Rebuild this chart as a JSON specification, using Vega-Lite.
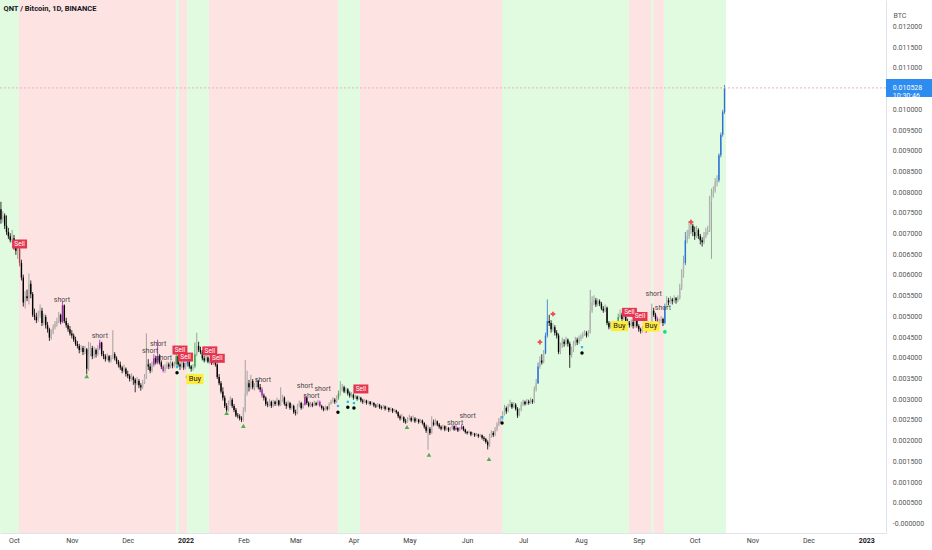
{
  "$schema": "https://vega.github.io/schema/vega-lite/v6.json",
  "description": "QNT / Bitcoin daily candles with signal bands and markers.",
  "width": 886,
  "height": 533,
  "autosize": {"type": "none"},
  "padding": {"left": 0, "top": 0, "right": 46, "bottom": 17},
  "title": {"text": "QNT / Bitcoin, 1D, BINANCE", "anchor": "start", "offset": -12, "dx": 4, "fontSize": 7.5, "fontWeight": "bold", "color": "#131722", "font": "Roboto"},
  "config": {"view": {"stroke": null}, "font": "Roboto", "axis": {"labelOverlap": false}},
  "datasets": {
    "bands": [
      {"a": "2021-09-23T12:00Z", "b": "2021-10-03T16:00Z", "t": "bull"},
      {"a": "2021-10-03T16:00Z", "b": "2021-12-26T21:00Z", "t": "bear"},
      {"a": "2021-12-26T21:00Z", "b": "2021-12-28T12:00Z", "t": "bull"},
      {"a": "2021-12-28T12:00Z", "b": "2022-01-01T19:00Z", "t": "bear"},
      {"a": "2022-01-01T19:00Z", "b": "2022-01-13T14:00Z", "t": "bull"},
      {"a": "2022-01-13T14:00Z", "b": "2022-03-23T17:00Z", "t": "bear"},
      {"a": "2022-03-23T17:00Z", "b": "2022-04-04T12:00Z", "t": "bull"},
      {"a": "2022-04-04T12:00Z", "b": "2022-06-19T17:00Z", "t": "bear"},
      {"a": "2022-06-19T17:00Z", "b": "2022-08-26T19:00Z", "t": "bull"},
      {"a": "2022-08-26T19:00Z", "b": "2022-09-07T14:00Z", "t": "bear"},
      {"a": "2022-09-07T14:00Z", "b": "2022-09-08T19:00Z", "t": "bull"},
      {"a": "2022-09-08T19:00Z", "b": "2022-09-14T12:00Z", "t": "bear"},
      {"a": "2022-09-14T12:00Z", "b": "2022-10-17T19:00Z", "t": "bull"}
    ],
    "last": [{"p": 0.010528, "label": "0.010528\n10:30:46"}],
    "ticks": [
      {"v": 0, "t": "-0.000000"}, {"v": 0.0005, "t": "0.000500"}, {"v": 0.001, "t": "0.001000"},
      {"v": 0.0015, "t": "0.001500"}, {"v": 0.002, "t": "0.002000"}, {"v": 0.0025, "t": "0.002500"},
      {"v": 0.003, "t": "0.003000"}, {"v": 0.0035, "t": "0.003500"}, {"v": 0.004, "t": "0.004000"},
      {"v": 0.0045, "t": "0.004500"}, {"v": 0.005, "t": "0.005000"}, {"v": 0.0055, "t": "0.005500"},
      {"v": 0.006, "t": "0.006000"}, {"v": 0.0065, "t": "0.006500"}, {"v": 0.007, "t": "0.007000"},
      {"v": 0.0075, "t": "0.007500"}, {"v": 0.008, "t": "0.008000"}, {"v": 0.0085, "t": "0.008500"},
      {"v": 0.009, "t": "0.009000"}, {"v": 0.0095, "t": "0.009500"}, {"v": 0.01, "t": "0.010000"},
      {"v": 0.011, "t": "0.011000"}, {"v": 0.0115, "t": "0.011500"}, {"v": 0.012, "t": "0.012000"}
    ],
    "ann": [
      {"d": "2021-10-04", "p": 0.00676, "k": "Sell"},
      {"d": "2021-12-29", "p": 0.0042, "k": "Sell"},
      {"d": "2022-01-01", "p": 0.00403, "k": "Sell"},
      {"d": "2022-01-14", "p": 0.00418, "k": "Sell"},
      {"d": "2022-01-18", "p": 0.004, "k": "Sell"},
      {"d": "2022-04-05", "p": 0.00326, "k": "Sell"},
      {"d": "2022-08-27", "p": 0.00511, "k": "Sell"},
      {"d": "2022-09-01T16:00Z", "p": 0.00501, "k": "Sell"},
      {"d": "2022-01-06", "p": 0.0035, "k": "Buy"},
      {"d": "2022-08-21T16:00Z", "p": 0.00478, "k": "Buy"},
      {"d": "2022-09-07T14:00Z", "p": 0.00477, "k": "Buy"},
      {"d": "2021-10-26T17:00Z", "p": 0.00541, "k": "short"},
      {"d": "2021-11-16", "p": 0.00454, "k": "short"},
      {"d": "2021-12-13", "p": 0.00418, "k": "short"},
      {"d": "2021-12-17T06:00Z", "p": 0.004357, "k": "short"},
      {"d": "2021-12-20T10:00Z", "p": 0.003996, "k": "short"},
      {"d": "2022-02-11T12:00Z", "p": 0.00348, "k": "short"},
      {"d": "2022-03-06", "p": 0.00333, "k": "short"},
      {"d": "2022-03-09T12:00Z", "p": 0.00309, "k": "short"},
      {"d": "2022-03-15T12:00Z", "p": 0.00326, "k": "short"},
      {"d": "2022-05-25T12:00Z", "p": 0.00244, "k": "short"},
      {"d": "2022-06-01T06:00Z", "p": 0.00261, "k": "short"},
      {"d": "2022-09-09", "p": 0.00555, "k": "short"},
      {"d": "2022-09-14", "p": 0.00521, "k": "short"},
      {"d": "2021-11-09", "p": 0.00357, "k": "tri"},
      {"d": "2022-01-23", "p": 0.00268, "k": "tri"},
      {"d": "2022-02-01", "p": 0.00237, "k": "tri"},
      {"d": "2022-04-29T17:00Z", "p": 0.00234, "k": "tri"},
      {"d": "2022-05-11T12:00Z", "p": 0.00167, "k": "tri"},
      {"d": "2022-06-12T17:00Z", "p": 0.00157, "k": "tri"},
      {"d": "2022-01-02", "p": 0.00355, "k": "gdot"},
      {"d": "2022-09-15", "p": 0.00464, "k": "gdot"},
      {"d": "2021-12-27T10:00Z", "p": 0.00365, "k": "dot"},
      {"d": "2022-03-23T17:00Z", "p": 0.0027, "k": "dot"},
      {"d": "2022-03-29", "p": 0.00282, "k": "dot"},
      {"d": "2022-04-01T07:00Z", "p": 0.0028, "k": "dot"},
      {"d": "2022-06-19T17:00Z", "p": 0.00244, "k": "dot"},
      {"d": "2022-08-01T14:00Z", "p": 0.00413, "k": "dot"},
      {"d": "2021-12-27T10:00Z", "p": 0.00379, "k": "bdot"},
      {"d": "2022-03-23T17:00Z", "p": 0.00285, "k": "bdot"},
      {"d": "2022-03-29", "p": 0.00295, "k": "bdot"},
      {"d": "2022-04-01T07:00Z", "p": 0.00292, "k": "bdot"},
      {"d": "2022-06-19T17:00Z", "p": 0.00258, "k": "bdot"},
      {"d": "2022-08-01T14:00Z", "p": 0.00427, "k": "bdot"},
      {"d": "2022-07-10", "p": 0.00439, "k": "plus"},
      {"d": "2022-07-17", "p": 0.00507, "k": "plus"},
      {"d": "2022-09-29", "p": 0.00729, "k": "plus"}
    ],
    "candles": [
      {"d":"2021-09-24","o":0.0076,"h":0.00778,"l":0.00725,"c":0.00735},
      {"d":"2021-09-25","o":0.00735,"h":0.00755,"l":0.00728,"c":0.00745},
      {"d":"2021-09-26","o":0.00745,"h":0.0075,"l":0.00712,"c":0.0072},
      {"d":"2021-09-27","o":0.0072,"h":0.00745,"l":0.00698,"c":0.00705},
      {"d":"2021-09-28","o":0.00705,"h":0.00715,"l":0.00688,"c":0.00695},
      {"d":"2021-09-29","o":0.00695,"h":0.00702,"l":0.0068,"c":0.00685},
      {"d":"2021-09-30","o":0.00685,"h":0.0071,"l":0.00678,"c":0.0069},
      {"d":"2021-10-01","o":0.0069,"h":0.00698,"l":0.00662,"c":0.0067},
      {"d":"2021-10-02","o":0.0067,"h":0.0068,"l":0.0065,"c":0.0066},
      {"d":"2021-10-03","o":0.0066,"h":0.00678,"l":0.0064,"c":0.00665},
      {"d":"2021-10-04","o":0.00665,"h":0.0067,"l":0.00622,"c":0.0063,"s":"sell"},
      {"d":"2021-10-05","o":0.0063,"h":0.00638,"l":0.00588,"c":0.00595},
      {"d":"2021-10-06","o":0.00595,"h":0.00602,"l":0.00525,"c":0.00535},
      {"d":"2021-10-07","o":0.00535,"h":0.00562,"l":0.0052,"c":0.0055},
      {"d":"2021-10-08","o":0.0055,"h":0.00566,"l":0.00538,"c":0.00545},
      {"d":"2021-10-09","o":0.00545,"h":0.00605,"l":0.0053,"c":0.0058},
      {"d":"2021-10-10","o":0.0058,"h":0.00588,"l":0.00545,"c":0.00555},
      {"d":"2021-10-11","o":0.00555,"h":0.0056,"l":0.005,"c":0.00505},
      {"d":"2021-10-12","o":0.00505,"h":0.0052,"l":0.00492,"c":0.005},
      {"d":"2021-10-13","o":0.005,"h":0.0051,"l":0.00485,"c":0.00492},
      {"d":"2021-10-14","o":0.00492,"h":0.00515,"l":0.00488,"c":0.00505},
      {"d":"2021-10-15","o":0.00505,"h":0.0053,"l":0.00498,"c":0.00515},
      {"d":"2021-10-16","o":0.00515,"h":0.00522,"l":0.00478,"c":0.00485},
      {"d":"2021-10-17","o":0.00485,"h":0.00508,"l":0.0048,"c":0.005},
      {"d":"2021-10-18","o":0.005,"h":0.00505,"l":0.00472,"c":0.0048},
      {"d":"2021-10-19","o":0.0048,"h":0.00488,"l":0.00462,"c":0.0047},
      {"d":"2021-10-20","o":0.0047,"h":0.00474,"l":0.00442,"c":0.0045},
      {"d":"2021-10-21","o":0.0045,"h":0.0047,"l":0.00445,"c":0.00462},
      {"d":"2021-10-22","o":0.00462,"h":0.00482,"l":0.00458,"c":0.00475},
      {"d":"2021-10-23","o":0.00475,"h":0.0049,"l":0.0047,"c":0.00482},
      {"d":"2021-10-24","o":0.00482,"h":0.00498,"l":0.00476,"c":0.0049},
      {"d":"2021-10-25","o":0.0049,"h":0.00512,"l":0.00485,"c":0.00505},
      {"d":"2021-10-26","o":0.00505,"h":0.00508,"l":0.00482,"c":0.00488},
      {"d":"2021-10-27","o":0.00488,"h":0.00538,"l":0.00485,"c":0.00528,"s":"short"},
      {"d":"2021-10-28","o":0.00528,"h":0.0053,"l":0.00485,"c":0.0049},
      {"d":"2021-10-29","o":0.0049,"h":0.00498,"l":0.00474,"c":0.0048},
      {"d":"2021-10-30","o":0.0048,"h":0.00485,"l":0.00464,"c":0.0047},
      {"d":"2021-10-31","o":0.0047,"h":0.00478,"l":0.00455,"c":0.0046},
      {"d":"2021-11-01","o":0.0046,"h":0.00468,"l":0.00448,"c":0.00455},
      {"d":"2021-11-02","o":0.00455,"h":0.0046,"l":0.0044,"c":0.00445},
      {"d":"2021-11-03","o":0.00445,"h":0.00452,"l":0.0043,"c":0.00435},
      {"d":"2021-11-04","o":0.00435,"h":0.00442,"l":0.00424,"c":0.0043},
      {"d":"2021-11-05","o":0.0043,"h":0.00435,"l":0.00412,"c":0.0042},
      {"d":"2021-11-06","o":0.0042,"h":0.00432,"l":0.00415,"c":0.00425},
      {"d":"2021-11-07","o":0.00425,"h":0.0043,"l":0.00408,"c":0.00415},
      {"d":"2021-11-08","o":0.00415,"h":0.0043,"l":0.0041,"c":0.00422},
      {"d":"2021-11-09","o":0.00422,"h":0.00425,"l":0.00362,"c":0.00375},
      {"d":"2021-11-10","o":0.00375,"h":0.0044,"l":0.0037,"c":0.0041},
      {"d":"2021-11-11","o":0.0041,"h":0.00438,"l":0.00405,"c":0.00425},
      {"d":"2021-11-12","o":0.00425,"h":0.0043,"l":0.00398,"c":0.00405},
      {"d":"2021-11-13","o":0.00405,"h":0.00428,"l":0.004,"c":0.0042},
      {"d":"2021-11-14","o":0.0042,"h":0.00424,"l":0.00402,"c":0.0041},
      {"d":"2021-11-15","o":0.0041,"h":0.00432,"l":0.00406,"c":0.00425},
      {"d":"2021-11-16","o":0.00425,"h":0.00445,"l":0.0042,"c":0.00438,"s":"short"},
      {"d":"2021-11-17","o":0.00438,"h":0.0044,"l":0.00405,"c":0.0041},
      {"d":"2021-11-18","o":0.0041,"h":0.00418,"l":0.00398,"c":0.00405},
      {"d":"2021-11-19","o":0.00405,"h":0.0041,"l":0.00392,"c":0.00398},
      {"d":"2021-11-20","o":0.00398,"h":0.00412,"l":0.00395,"c":0.00405},
      {"d":"2021-11-21","o":0.00405,"h":0.00408,"l":0.0039,"c":0.00395},
      {"d":"2021-11-22","o":0.00395,"h":0.00408,"l":0.0039,"c":0.00402},
      {"d":"2021-11-23","o":0.00402,"h":0.00468,"l":0.00398,"c":0.0041},
      {"d":"2021-11-24","o":0.0041,"h":0.00415,"l":0.00395,"c":0.004},
      {"d":"2021-11-25","o":0.004,"h":0.00405,"l":0.00386,"c":0.00392},
      {"d":"2021-11-26","o":0.00392,"h":0.00396,"l":0.00378,"c":0.00385},
      {"d":"2021-11-27","o":0.00385,"h":0.00392,"l":0.00372,"c":0.00378},
      {"d":"2021-11-28","o":0.00378,"h":0.00382,"l":0.00364,"c":0.0037},
      {"d":"2021-11-29","o":0.0037,"h":0.00385,"l":0.00366,"c":0.00375},
      {"d":"2021-11-30","o":0.00375,"h":0.00378,"l":0.00356,"c":0.00362},
      {"d":"2021-12-01","o":0.00362,"h":0.0037,"l":0.00352,"c":0.00358},
      {"d":"2021-12-02","o":0.00358,"h":0.00362,"l":0.00344,"c":0.0035},
      {"d":"2021-12-03","o":0.0035,"h":0.00364,"l":0.00346,"c":0.00355},
      {"d":"2021-12-04","o":0.00355,"h":0.00358,"l":0.00336,"c":0.00348},
      {"d":"2021-12-05","o":0.00348,"h":0.00352,"l":0.00318,"c":0.0034},
      {"d":"2021-12-06","o":0.0034,"h":0.00355,"l":0.00335,"c":0.00345},
      {"d":"2021-12-07","o":0.00345,"h":0.0035,"l":0.00328,"c":0.00335},
      {"d":"2021-12-08","o":0.00335,"h":0.0034,"l":0.00322,"c":0.0033},
      {"d":"2021-12-09","o":0.0033,"h":0.00348,"l":0.00326,"c":0.00342},
      {"d":"2021-12-10","o":0.00342,"h":0.00362,"l":0.00338,"c":0.00355},
      {"d":"2021-12-11","o":0.00355,"h":0.0046,"l":0.0035,"c":0.00385},
      {"d":"2021-12-12","o":0.00385,"h":0.00398,"l":0.00372,"c":0.0038},
      {"d":"2021-12-13","o":0.0038,"h":0.00388,"l":0.00364,"c":0.0037},
      {"d":"2021-12-14","o":0.0037,"h":0.00392,"l":0.00366,"c":0.00385},
      {"d":"2021-12-15","o":0.00385,"h":0.0041,"l":0.0038,"c":0.004,"s":"short"},
      {"d":"2021-12-16","o":0.004,"h":0.00406,"l":0.00385,"c":0.0039},
      {"d":"2021-12-17","o":0.0039,"h":0.00445,"l":0.00386,"c":0.00405,"s":"short"},
      {"d":"2021-12-18","o":0.00405,"h":0.0041,"l":0.00385,"c":0.0039},
      {"d":"2021-12-19","o":0.0039,"h":0.00395,"l":0.00374,"c":0.0038},
      {"d":"2021-12-20","o":0.0038,"h":0.00384,"l":0.00366,"c":0.0037,"s":"short"},
      {"d":"2021-12-21","o":0.0037,"h":0.00386,"l":0.00365,"c":0.00378},
      {"d":"2021-12-22","o":0.00378,"h":0.00392,"l":0.00374,"c":0.00385},
      {"d":"2021-12-23","o":0.00385,"h":0.0039,"l":0.00374,"c":0.0038},
      {"d":"2021-12-24","o":0.0038,"h":0.00395,"l":0.00376,"c":0.00388},
      {"d":"2021-12-25","o":0.00388,"h":0.00392,"l":0.00376,"c":0.00382},
      {"d":"2021-12-26","o":0.00382,"h":0.00392,"l":0.00378,"c":0.00386},
      {"d":"2021-12-27","o":0.00386,"h":0.00412,"l":0.00382,"c":0.00405,"s":"long"},
      {"d":"2021-12-28","o":0.00405,"h":0.00408,"l":0.0038,"c":0.00385},
      {"d":"2021-12-29","o":0.00385,"h":0.0039,"l":0.00372,"c":0.0038},
      {"d":"2021-12-30","o":0.0038,"h":0.00395,"l":0.00376,"c":0.00388},
      {"d":"2021-12-31","o":0.00388,"h":0.00392,"l":0.00372,"c":0.00378},
      {"d":"2022-01-01","o":0.00378,"h":0.0039,"l":0.00374,"c":0.00385},
      {"d":"2022-01-02","o":0.00385,"h":0.00398,"l":0.0038,"c":0.00392,"s":"trend"},
      {"d":"2022-01-03","o":0.00392,"h":0.00395,"l":0.00375,"c":0.0038},
      {"d":"2022-01-04","o":0.0038,"h":0.00384,"l":0.00368,"c":0.00375},
      {"d":"2022-01-05","o":0.00375,"h":0.00386,"l":0.0037,"c":0.0038},
      {"d":"2022-01-06","o":0.0038,"h":0.00438,"l":0.00376,"c":0.0041,"s":"long"},
      {"d":"2022-01-07","o":0.0041,"h":0.00462,"l":0.00405,"c":0.0043},
      {"d":"2022-01-08","o":0.0043,"h":0.0044,"l":0.00415,"c":0.0042},
      {"d":"2022-01-09","o":0.0042,"h":0.00428,"l":0.0041,"c":0.00415},
      {"d":"2022-01-10","o":0.00415,"h":0.0042,"l":0.00395,"c":0.004},
      {"d":"2022-01-11","o":0.004,"h":0.00406,"l":0.0039,"c":0.00395},
      {"d":"2022-01-12","o":0.00395,"h":0.00408,"l":0.00392,"c":0.00402},
      {"d":"2022-01-13","o":0.00402,"h":0.00405,"l":0.00388,"c":0.00392},
      {"d":"2022-01-14","o":0.00392,"h":0.004,"l":0.00386,"c":0.00395},
      {"d":"2022-01-15","o":0.00395,"h":0.00398,"l":0.00384,"c":0.00388},
      {"d":"2022-01-16","o":0.00388,"h":0.00395,"l":0.00384,"c":0.0039},
      {"d":"2022-01-17","o":0.0039,"h":0.00394,"l":0.0038,"c":0.00385},
      {"d":"2022-01-18","o":0.00385,"h":0.00388,"l":0.0035,"c":0.00355},
      {"d":"2022-01-19","o":0.00355,"h":0.00362,"l":0.00335,"c":0.0034},
      {"d":"2022-01-20","o":0.0034,"h":0.00345,"l":0.00315,"c":0.0032},
      {"d":"2022-01-21","o":0.0032,"h":0.0033,"l":0.00298,"c":0.00305},
      {"d":"2022-01-22","o":0.00305,"h":0.0031,"l":0.0028,"c":0.00285},
      {"d":"2022-01-23","o":0.00285,"h":0.00292,"l":0.0027,"c":0.00275},
      {"d":"2022-01-24","o":0.00275,"h":0.00298,"l":0.00272,"c":0.0029},
      {"d":"2022-01-25","o":0.0029,"h":0.00308,"l":0.00286,"c":0.003},
      {"d":"2022-01-26","o":0.003,"h":0.00304,"l":0.0028,"c":0.00285},
      {"d":"2022-01-27","o":0.00285,"h":0.0029,"l":0.0027,"c":0.00275},
      {"d":"2022-01-28","o":0.00275,"h":0.0028,"l":0.00258,"c":0.00262},
      {"d":"2022-01-29","o":0.00262,"h":0.00268,"l":0.00255,"c":0.0026},
      {"d":"2022-01-30","o":0.0026,"h":0.00265,"l":0.0025,"c":0.00255},
      {"d":"2022-01-31","o":0.00255,"h":0.0026,"l":0.00246,"c":0.00252},
      {"d":"2022-02-01","o":0.00252,"h":0.00282,"l":0.00248,"c":0.00275},
      {"d":"2022-02-02","o":0.00275,"h":0.00396,"l":0.0027,"c":0.00315},
      {"d":"2022-02-03","o":0.00315,"h":0.0037,"l":0.0031,"c":0.0034},
      {"d":"2022-02-04","o":0.0034,"h":0.00348,"l":0.0032,"c":0.0033},
      {"d":"2022-02-05","o":0.0033,"h":0.0036,"l":0.00325,"c":0.00345},
      {"d":"2022-02-06","o":0.00345,"h":0.0035,"l":0.00325,"c":0.0033},
      {"d":"2022-02-07","o":0.0033,"h":0.0034,"l":0.00322,"c":0.00335},
      {"d":"2022-02-08","o":0.00335,"h":0.00352,"l":0.0033,"c":0.00345},
      {"d":"2022-02-09","o":0.00345,"h":0.00348,"l":0.00325,"c":0.0033},
      {"d":"2022-02-10","o":0.0033,"h":0.00338,"l":0.00318,"c":0.00325},
      {"d":"2022-02-11","o":0.00325,"h":0.0033,"l":0.00305,"c":0.0031,"s":"short"},
      {"d":"2022-02-12","o":0.0031,"h":0.00315,"l":0.00298,"c":0.00305},
      {"d":"2022-02-13","o":0.00305,"h":0.00308,"l":0.00285,"c":0.0029},
      {"d":"2022-02-14","o":0.0029,"h":0.00296,"l":0.00282,"c":0.00288},
      {"d":"2022-02-15","o":0.00288,"h":0.00302,"l":0.00284,"c":0.00295},
      {"d":"2022-02-16","o":0.00295,"h":0.00298,"l":0.0028,"c":0.00285},
      {"d":"2022-02-17","o":0.00285,"h":0.003,"l":0.00282,"c":0.00295},
      {"d":"2022-02-18","o":0.00295,"h":0.00298,"l":0.00285,"c":0.0029},
      {"d":"2022-02-19","o":0.0029,"h":0.00305,"l":0.00286,"c":0.00298},
      {"d":"2022-02-20","o":0.00298,"h":0.003,"l":0.00284,"c":0.00288},
      {"d":"2022-02-21","o":0.00288,"h":0.0033,"l":0.00285,"c":0.003},
      {"d":"2022-02-22","o":0.003,"h":0.00312,"l":0.00295,"c":0.00305},
      {"d":"2022-02-23","o":0.00305,"h":0.00308,"l":0.00286,"c":0.0029},
      {"d":"2022-02-24","o":0.0029,"h":0.00295,"l":0.00278,"c":0.00285},
      {"d":"2022-02-25","o":0.00285,"h":0.00298,"l":0.00282,"c":0.00292},
      {"d":"2022-02-26","o":0.00292,"h":0.00295,"l":0.00276,"c":0.0028},
      {"d":"2022-02-27","o":0.0028,"h":0.0029,"l":0.00276,"c":0.00285},
      {"d":"2022-02-28","o":0.00285,"h":0.00288,"l":0.00266,"c":0.0027},
      {"d":"2022-03-01","o":0.0027,"h":0.00276,"l":0.00262,"c":0.00268},
      {"d":"2022-03-02","o":0.00268,"h":0.0029,"l":0.00265,"c":0.00285},
      {"d":"2022-03-03","o":0.00285,"h":0.00298,"l":0.00282,"c":0.00292},
      {"d":"2022-03-04","o":0.00292,"h":0.00295,"l":0.00276,"c":0.0028},
      {"d":"2022-03-05","o":0.0028,"h":0.00292,"l":0.00278,"c":0.00288},
      {"d":"2022-03-06","o":0.00288,"h":0.00312,"l":0.00286,"c":0.00305,"s":"short"},
      {"d":"2022-03-07","o":0.00305,"h":0.00308,"l":0.00288,"c":0.00292},
      {"d":"2022-03-08","o":0.00292,"h":0.00296,"l":0.00282,"c":0.00285},
      {"d":"2022-03-09","o":0.00285,"h":0.00295,"l":0.00282,"c":0.0029},
      {"d":"2022-03-10","o":0.0029,"h":0.00294,"l":0.00282,"c":0.00286},
      {"d":"2022-03-11","o":0.00286,"h":0.00298,"l":0.00284,"c":0.00292},
      {"d":"2022-03-12","o":0.00292,"h":0.00295,"l":0.00285,"c":0.00288},
      {"d":"2022-03-13","o":0.00288,"h":0.003,"l":0.00286,"c":0.00295},
      {"d":"2022-03-14","o":0.00295,"h":0.00298,"l":0.00282,"c":0.00285,"s":"short"},
      {"d":"2022-03-15","o":0.00285,"h":0.00288,"l":0.00276,"c":0.0028},
      {"d":"2022-03-16","o":0.0028,"h":0.00284,"l":0.00272,"c":0.00276},
      {"d":"2022-03-17","o":0.00276,"h":0.00286,"l":0.00274,"c":0.00282},
      {"d":"2022-03-18","o":0.00282,"h":0.00285,"l":0.00274,"c":0.00278},
      {"d":"2022-03-19","o":0.00278,"h":0.00294,"l":0.00276,"c":0.0029},
      {"d":"2022-03-20","o":0.0029,"h":0.003,"l":0.00288,"c":0.00295},
      {"d":"2022-03-21","o":0.00295,"h":0.00306,"l":0.00292,"c":0.003},
      {"d":"2022-03-22","o":0.003,"h":0.00304,"l":0.0029,"c":0.00295},
      {"d":"2022-03-23","o":0.00295,"h":0.0031,"l":0.00292,"c":0.00305},
      {"d":"2022-03-24","o":0.00305,"h":0.00322,"l":0.003,"c":0.00315,"s":"long"},
      {"d":"2022-03-25","o":0.00315,"h":0.00345,"l":0.0031,"c":0.00325},
      {"d":"2022-03-26","o":0.00325,"h":0.00338,"l":0.0032,"c":0.0033},
      {"d":"2022-03-27","o":0.0033,"h":0.00334,"l":0.00316,"c":0.0032},
      {"d":"2022-03-28","o":0.0032,"h":0.0033,"l":0.00315,"c":0.00325},
      {"d":"2022-03-29","o":0.00325,"h":0.00328,"l":0.0031,"c":0.00315},
      {"d":"2022-03-30","o":0.00315,"h":0.0032,"l":0.00305,"c":0.0031},
      {"d":"2022-03-31","o":0.0031,"h":0.00318,"l":0.00306,"c":0.00312},
      {"d":"2022-04-01","o":0.00312,"h":0.00315,"l":0.003,"c":0.00305},
      {"d":"2022-04-02","o":0.00305,"h":0.00312,"l":0.00302,"c":0.00308},
      {"d":"2022-04-03","o":0.00308,"h":0.0031,"l":0.00298,"c":0.00302},
      {"d":"2022-04-04","o":0.00302,"h":0.0031,"l":0.003,"c":0.00305},
      {"d":"2022-04-05","o":0.00305,"h":0.00307,"l":0.00294,"c":0.00298},
      {"d":"2022-04-06","o":0.00298,"h":0.00302,"l":0.0029,"c":0.00295},
      {"d":"2022-04-07","o":0.00295,"h":0.00302,"l":0.00292,"c":0.00298},
      {"d":"2022-04-08","o":0.00298,"h":0.003,"l":0.00288,"c":0.00292},
      {"d":"2022-04-09","o":0.00292,"h":0.00298,"l":0.00289,"c":0.00295},
      {"d":"2022-04-10","o":0.00295,"h":0.00297,"l":0.00286,"c":0.0029},
      {"d":"2022-04-11","o":0.0029,"h":0.00296,"l":0.00287,"c":0.00292},
      {"d":"2022-04-12","o":0.00292,"h":0.00294,"l":0.00282,"c":0.00286},
      {"d":"2022-04-13","o":0.00286,"h":0.0029,"l":0.0028,"c":0.00284},
      {"d":"2022-04-14","o":0.00284,"h":0.00292,"l":0.00282,"c":0.00288},
      {"d":"2022-04-15","o":0.00288,"h":0.0029,"l":0.00278,"c":0.00282},
      {"d":"2022-04-16","o":0.00282,"h":0.00286,"l":0.00276,"c":0.0028},
      {"d":"2022-04-17","o":0.0028,"h":0.00288,"l":0.00278,"c":0.00284},
      {"d":"2022-04-18","o":0.00284,"h":0.00286,"l":0.00274,"c":0.00278},
      {"d":"2022-04-19","o":0.00278,"h":0.00284,"l":0.00276,"c":0.0028},
      {"d":"2022-04-20","o":0.0028,"h":0.00282,"l":0.0027,"c":0.00275},
      {"d":"2022-04-21","o":0.00275,"h":0.00282,"l":0.00272,"c":0.00278},
      {"d":"2022-04-22","o":0.00278,"h":0.0028,"l":0.00268,"c":0.00272},
      {"d":"2022-04-23","o":0.00272,"h":0.00278,"l":0.0027,"c":0.00274},
      {"d":"2022-04-24","o":0.00274,"h":0.00276,"l":0.00266,"c":0.0027},
      {"d":"2022-04-25","o":0.0027,"h":0.00272,"l":0.00256,"c":0.0026},
      {"d":"2022-04-26","o":0.0026,"h":0.00264,"l":0.0025,"c":0.00255},
      {"d":"2022-04-27","o":0.00255,"h":0.00266,"l":0.00252,"c":0.00258},
      {"d":"2022-04-28","o":0.00258,"h":0.0026,"l":0.00244,"c":0.00248},
      {"d":"2022-04-29","o":0.00248,"h":0.00254,"l":0.00242,"c":0.00246},
      {"d":"2022-04-30","o":0.00246,"h":0.00258,"l":0.00244,"c":0.00252},
      {"d":"2022-05-01","o":0.00252,"h":0.00264,"l":0.0025,"c":0.00256},
      {"d":"2022-05-02","o":0.00256,"h":0.0026,"l":0.00246,"c":0.0025},
      {"d":"2022-05-03","o":0.0025,"h":0.00262,"l":0.00248,"c":0.00255},
      {"d":"2022-05-04","o":0.00255,"h":0.00258,"l":0.00244,"c":0.00248},
      {"d":"2022-05-05","o":0.00248,"h":0.00256,"l":0.00246,"c":0.00252},
      {"d":"2022-05-06","o":0.00252,"h":0.00254,"l":0.00242,"c":0.00246},
      {"d":"2022-05-07","o":0.00246,"h":0.00254,"l":0.00244,"c":0.0025},
      {"d":"2022-05-08","o":0.0025,"h":0.00252,"l":0.0024,"c":0.00244},
      {"d":"2022-05-09","o":0.00244,"h":0.00246,"l":0.0023,"c":0.00235},
      {"d":"2022-05-10","o":0.00235,"h":0.0024,"l":0.0022,"c":0.00225},
      {"d":"2022-05-11","o":0.00225,"h":0.00238,"l":0.00179,"c":0.0023},
      {"d":"2022-05-12","o":0.0023,"h":0.00234,"l":0.00215,"c":0.0022},
      {"d":"2022-05-13","o":0.0022,"h":0.0026,"l":0.00218,"c":0.00245},
      {"d":"2022-05-14","o":0.00245,"h":0.00252,"l":0.00236,"c":0.0024},
      {"d":"2022-05-15","o":0.0024,"h":0.00254,"l":0.00238,"c":0.00248},
      {"d":"2022-05-16","o":0.00248,"h":0.0025,"l":0.00236,"c":0.0024},
      {"d":"2022-05-17","o":0.0024,"h":0.00244,"l":0.0023,"c":0.00235},
      {"d":"2022-05-18","o":0.00235,"h":0.00238,"l":0.00226,"c":0.0023},
      {"d":"2022-05-19","o":0.0023,"h":0.0024,"l":0.00228,"c":0.00236},
      {"d":"2022-05-20","o":0.00236,"h":0.00238,"l":0.00224,"c":0.00228},
      {"d":"2022-05-21","o":0.00228,"h":0.00236,"l":0.00226,"c":0.00232},
      {"d":"2022-05-22","o":0.00232,"h":0.00234,"l":0.00222,"c":0.00226},
      {"d":"2022-05-23","o":0.00226,"h":0.00234,"l":0.00224,"c":0.0023},
      {"d":"2022-05-24","o":0.0023,"h":0.00242,"l":0.00228,"c":0.00236},
      {"d":"2022-05-25","o":0.00236,"h":0.00238,"l":0.00225,"c":0.00228},
      {"d":"2022-05-26","o":0.00228,"h":0.00238,"l":0.00226,"c":0.00232,"s":"short"},
      {"d":"2022-05-27","o":0.00232,"h":0.00234,"l":0.00222,"c":0.00226},
      {"d":"2022-05-28","o":0.00226,"h":0.00234,"l":0.00224,"c":0.0023},
      {"d":"2022-05-29","o":0.0023,"h":0.0024,"l":0.00228,"c":0.00235,"s":"short"},
      {"d":"2022-05-30","o":0.00235,"h":0.00237,"l":0.00224,"c":0.00228},
      {"d":"2022-05-31","o":0.00228,"h":0.0023,"l":0.00218,"c":0.00222},
      {"d":"2022-06-01","o":0.00222,"h":0.00225,"l":0.00216,"c":0.0022},
      {"d":"2022-06-02","o":0.0022,"h":0.00226,"l":0.00218,"c":0.00222},
      {"d":"2022-06-03","o":0.00222,"h":0.00224,"l":0.00212,"c":0.00216},
      {"d":"2022-06-04","o":0.00216,"h":0.00222,"l":0.00214,"c":0.00218},
      {"d":"2022-06-05","o":0.00218,"h":0.0022,"l":0.0021,"c":0.00214},
      {"d":"2022-06-06","o":0.00214,"h":0.0022,"l":0.00212,"c":0.00216},
      {"d":"2022-06-07","o":0.00216,"h":0.00218,"l":0.00208,"c":0.00212},
      {"d":"2022-06-08","o":0.00212,"h":0.00218,"l":0.0021,"c":0.00214},
      {"d":"2022-06-09","o":0.00214,"h":0.00216,"l":0.00204,"c":0.00208},
      {"d":"2022-06-10","o":0.00208,"h":0.00212,"l":0.002,"c":0.00205},
      {"d":"2022-06-11","o":0.00205,"h":0.00208,"l":0.00194,"c":0.00198},
      {"d":"2022-06-12","o":0.00198,"h":0.00202,"l":0.0018,"c":0.0019},
      {"d":"2022-06-13","o":0.0019,"h":0.00218,"l":0.00186,"c":0.00212},
      {"d":"2022-06-14","o":0.00212,"h":0.00226,"l":0.00208,"c":0.0022},
      {"d":"2022-06-15","o":0.0022,"h":0.00224,"l":0.0021,"c":0.00215},
      {"d":"2022-06-16","o":0.00215,"h":0.00234,"l":0.00212,"c":0.00228},
      {"d":"2022-06-17","o":0.00228,"h":0.00246,"l":0.00224,"c":0.0024},
      {"d":"2022-06-18","o":0.0024,"h":0.00256,"l":0.00236,"c":0.0025},
      {"d":"2022-06-19","o":0.0025,"h":0.0026,"l":0.00244,"c":0.00252},
      {"d":"2022-06-20","o":0.00252,"h":0.00272,"l":0.0025,"c":0.00265},
      {"d":"2022-06-21","o":0.00265,"h":0.00288,"l":0.00262,"c":0.0028},
      {"d":"2022-06-22","o":0.0028,"h":0.00284,"l":0.00266,"c":0.00272},
      {"d":"2022-06-23","o":0.00272,"h":0.0029,"l":0.0027,"c":0.00285},
      {"d":"2022-06-24","o":0.00285,"h":0.003,"l":0.00282,"c":0.0029},
      {"d":"2022-06-25","o":0.0029,"h":0.00294,"l":0.00278,"c":0.00282},
      {"d":"2022-06-26","o":0.00282,"h":0.00294,"l":0.0028,"c":0.00288},
      {"d":"2022-06-27","o":0.00288,"h":0.00292,"l":0.00274,"c":0.00278},
      {"d":"2022-06-28","o":0.00278,"h":0.00282,"l":0.00256,"c":0.00262},
      {"d":"2022-06-29","o":0.00262,"h":0.0028,"l":0.0026,"c":0.00275},
      {"d":"2022-06-30","o":0.00275,"h":0.00295,"l":0.00272,"c":0.00288},
      {"d":"2022-07-01","o":0.00288,"h":0.003,"l":0.00285,"c":0.00295},
      {"d":"2022-07-02","o":0.00295,"h":0.00298,"l":0.00286,"c":0.0029},
      {"d":"2022-07-03","o":0.0029,"h":0.00302,"l":0.00288,"c":0.00296},
      {"d":"2022-07-04","o":0.00296,"h":0.003,"l":0.00288,"c":0.00292},
      {"d":"2022-07-05","o":0.00292,"h":0.00305,"l":0.0029,"c":0.00298},
      {"d":"2022-07-06","o":0.00298,"h":0.00302,"l":0.0029,"c":0.00295},
      {"d":"2022-07-07","o":0.00295,"h":0.00332,"l":0.00292,"c":0.00325},
      {"d":"2022-07-08","o":0.00325,"h":0.0035,"l":0.0032,"c":0.0034},
      {"d":"2022-07-09","o":0.0034,"h":0.0039,"l":0.00338,"c":0.0038,"s":"trend"},
      {"d":"2022-07-10","o":0.0038,"h":0.00405,"l":0.00375,"c":0.00395},
      {"d":"2022-07-11","o":0.00395,"h":0.0041,"l":0.00385,"c":0.0039},
      {"d":"2022-07-12","o":0.0039,"h":0.0042,"l":0.00388,"c":0.00412},
      {"d":"2022-07-13","o":0.00412,"h":0.00462,"l":0.0041,"c":0.00455,"s":"trend"},
      {"d":"2022-07-14","o":0.00455,"h":0.00542,"l":0.0045,"c":0.0049,"s":"trend"},
      {"d":"2022-07-15","o":0.0049,"h":0.00505,"l":0.00478,"c":0.00485},
      {"d":"2022-07-16","o":0.00485,"h":0.00492,"l":0.00462,"c":0.0047},
      {"d":"2022-07-17","o":0.0047,"h":0.00485,"l":0.00465,"c":0.00475},
      {"d":"2022-07-18","o":0.00475,"h":0.0048,"l":0.00455,"c":0.00462},
      {"d":"2022-07-19","o":0.00462,"h":0.00468,"l":0.00448,"c":0.00455},
      {"d":"2022-07-20","o":0.00455,"h":0.0046,"l":0.0041,"c":0.00415},
      {"d":"2022-07-21","o":0.00415,"h":0.00438,"l":0.0041,"c":0.0043},
      {"d":"2022-07-22","o":0.0043,"h":0.0045,"l":0.00425,"c":0.0044},
      {"d":"2022-07-23","o":0.0044,"h":0.00446,"l":0.00428,"c":0.00435},
      {"d":"2022-07-24","o":0.00435,"h":0.00452,"l":0.00432,"c":0.00445},
      {"d":"2022-07-25","o":0.00445,"h":0.00448,"l":0.00428,"c":0.00435},
      {"d":"2022-07-26","o":0.00435,"h":0.0044,"l":0.00377,"c":0.00408},
      {"d":"2022-07-27","o":0.00408,"h":0.00428,"l":0.00402,"c":0.0042},
      {"d":"2022-07-28","o":0.0042,"h":0.00442,"l":0.00415,"c":0.00435},
      {"d":"2022-07-29","o":0.00435,"h":0.00452,"l":0.0043,"c":0.00445},
      {"d":"2022-07-30","o":0.00445,"h":0.0045,"l":0.00432,"c":0.00438},
      {"d":"2022-07-31","o":0.00438,"h":0.00455,"l":0.00435,"c":0.00448},
      {"d":"2022-08-01","o":0.00448,"h":0.00458,"l":0.00442,"c":0.00452},
      {"d":"2022-08-02","o":0.00452,"h":0.00464,"l":0.00448,"c":0.00458},
      {"d":"2022-08-03","o":0.00458,"h":0.00468,"l":0.00454,"c":0.00462},
      {"d":"2022-08-04","o":0.00462,"h":0.00466,"l":0.0045,"c":0.00455},
      {"d":"2022-08-05","o":0.00455,"h":0.00468,"l":0.00452,"c":0.00462},
      {"d":"2022-08-06","o":0.00462,"h":0.00565,"l":0.0046,"c":0.00515},
      {"d":"2022-08-07","o":0.00515,"h":0.0055,"l":0.0051,"c":0.00535},
      {"d":"2022-08-08","o":0.00535,"h":0.00552,"l":0.00528,"c":0.0054},
      {"d":"2022-08-09","o":0.0054,"h":0.00546,"l":0.00524,"c":0.0053},
      {"d":"2022-08-10","o":0.0053,"h":0.00544,"l":0.00526,"c":0.00538},
      {"d":"2022-08-11","o":0.00538,"h":0.00542,"l":0.00526,"c":0.00532},
      {"d":"2022-08-12","o":0.00532,"h":0.00536,"l":0.00516,"c":0.0052},
      {"d":"2022-08-13","o":0.0052,"h":0.00526,"l":0.0051,"c":0.00515},
      {"d":"2022-08-14","o":0.00515,"h":0.0053,"l":0.00512,"c":0.00522},
      {"d":"2022-08-15","o":0.00522,"h":0.00525,"l":0.0048,"c":0.00485},
      {"d":"2022-08-16","o":0.00485,"h":0.0049,"l":0.0047,"c":0.00475},
      {"d":"2022-08-17","o":0.00475,"h":0.00488,"l":0.00472,"c":0.0048},
      {"d":"2022-08-18","o":0.0048,"h":0.00484,"l":0.0047,"c":0.00474},
      {"d":"2022-08-19","o":0.00474,"h":0.00484,"l":0.0047,"c":0.00478},
      {"d":"2022-08-20","o":0.00478,"h":0.00482,"l":0.00466,"c":0.00472},
      {"d":"2022-08-21","o":0.00472,"h":0.00508,"l":0.0047,"c":0.005,"s":"long"},
      {"d":"2022-08-22","o":0.005,"h":0.00518,"l":0.00496,"c":0.00505},
      {"d":"2022-08-23","o":0.00505,"h":0.0051,"l":0.0049,"c":0.00495},
      {"d":"2022-08-24","o":0.00495,"h":0.00512,"l":0.00492,"c":0.00505},
      {"d":"2022-08-25","o":0.00505,"h":0.00508,"l":0.00486,"c":0.0049},
      {"d":"2022-08-26","o":0.0049,"h":0.00496,"l":0.0048,"c":0.00485},
      {"d":"2022-08-27","o":0.00485,"h":0.0049,"l":0.00474,"c":0.0048},
      {"d":"2022-08-28","o":0.0048,"h":0.00494,"l":0.00476,"c":0.00488},
      {"d":"2022-08-29","o":0.00488,"h":0.00492,"l":0.00472,"c":0.00478},
      {"d":"2022-08-30","o":0.00478,"h":0.00502,"l":0.00474,"c":0.00495},
      {"d":"2022-08-31","o":0.00495,"h":0.00498,"l":0.00474,"c":0.00478},
      {"d":"2022-09-01","o":0.00478,"h":0.00482,"l":0.00464,"c":0.0047},
      {"d":"2022-09-02","o":0.0047,"h":0.00474,"l":0.0046,"c":0.00466},
      {"d":"2022-09-03","o":0.00466,"h":0.00478,"l":0.00462,"c":0.00472},
      {"d":"2022-09-04","o":0.00472,"h":0.00482,"l":0.00468,"c":0.00475},
      {"d":"2022-09-05","o":0.00475,"h":0.00478,"l":0.00462,"c":0.0047},
      {"d":"2022-09-06","o":0.0047,"h":0.00488,"l":0.00466,"c":0.0048},
      {"d":"2022-09-07","o":0.0048,"h":0.00484,"l":0.00466,"c":0.00472},
      {"d":"2022-09-08","o":0.00472,"h":0.00532,"l":0.0047,"c":0.00515},
      {"d":"2022-09-09","o":0.00515,"h":0.00522,"l":0.005,"c":0.00505},
      {"d":"2022-09-10","o":0.00505,"h":0.0051,"l":0.0049,"c":0.00495},
      {"d":"2022-09-11","o":0.00495,"h":0.005,"l":0.0048,"c":0.00485,"s":"short"},
      {"d":"2022-09-12","o":0.00485,"h":0.00496,"l":0.00482,"c":0.0049},
      {"d":"2022-09-13","o":0.0049,"h":0.00502,"l":0.00485,"c":0.00495},
      {"d":"2022-09-14","o":0.00495,"h":0.00498,"l":0.00478,"c":0.00485},
      {"d":"2022-09-15","o":0.00485,"h":0.00532,"l":0.00482,"c":0.00525,"s":"trend"},
      {"d":"2022-09-16","o":0.00525,"h":0.0055,"l":0.00522,"c":0.0054},
      {"d":"2022-09-17","o":0.0054,"h":0.00546,"l":0.00528,"c":0.00535},
      {"d":"2022-09-18","o":0.00535,"h":0.0055,"l":0.00532,"c":0.00542},
      {"d":"2022-09-19","o":0.00542,"h":0.00546,"l":0.0053,"c":0.00538},
      {"d":"2022-09-20","o":0.00538,"h":0.00552,"l":0.00534,"c":0.00545},
      {"d":"2022-09-21","o":0.00545,"h":0.00548,"l":0.00532,"c":0.0054},
      {"d":"2022-09-22","o":0.0054,"h":0.00552,"l":0.00536,"c":0.00545},
      {"d":"2022-09-23","o":0.00545,"h":0.0058,"l":0.00542,"c":0.0057},
      {"d":"2022-09-24","o":0.0057,"h":0.00615,"l":0.00565,"c":0.006},
      {"d":"2022-09-25","o":0.006,"h":0.00648,"l":0.00595,"c":0.0063},
      {"d":"2022-09-26","o":0.0063,"h":0.00705,"l":0.00625,"c":0.00685,"s":"trend"},
      {"d":"2022-09-27","o":0.00685,"h":0.0071,"l":0.00678,"c":0.00695},
      {"d":"2022-09-28","o":0.00695,"h":0.0073,"l":0.00688,"c":0.0071},
      {"d":"2022-09-29","o":0.0071,"h":0.00735,"l":0.007,"c":0.0072},
      {"d":"2022-09-30","o":0.0072,"h":0.00725,"l":0.00695,"c":0.00705},
      {"d":"2022-10-01","o":0.00705,"h":0.00718,"l":0.00686,"c":0.00695},
      {"d":"2022-10-02","o":0.00695,"h":0.0072,"l":0.0069,"c":0.0071},
      {"d":"2022-10-03","o":0.0071,"h":0.00714,"l":0.00688,"c":0.00695},
      {"d":"2022-10-04","o":0.00695,"h":0.007,"l":0.00675,"c":0.00685},
      {"d":"2022-10-05","o":0.00685,"h":0.00692,"l":0.0067,"c":0.0068},
      {"d":"2022-10-06","o":0.0068,"h":0.00705,"l":0.00676,"c":0.00695},
      {"d":"2022-10-07","o":0.00695,"h":0.00715,"l":0.0069,"c":0.00705},
      {"d":"2022-10-08","o":0.00705,"h":0.0072,"l":0.00698,"c":0.0071},
      {"d":"2022-10-09","o":0.0071,"h":0.00792,"l":0.00705,"c":0.0078},
      {"d":"2022-10-10","o":0.0078,"h":0.0081,"l":0.0064,"c":0.00795},
      {"d":"2022-10-11","o":0.00795,"h":0.00815,"l":0.00788,"c":0.00805},
      {"d":"2022-10-12","o":0.00805,"h":0.00835,"l":0.008,"c":0.00825},
      {"d":"2022-10-13","o":0.00825,"h":0.00842,"l":0.00815,"c":0.0083},
      {"d":"2022-10-14","o":0.0083,"h":0.00895,"l":0.00825,"c":0.0089,"s":"trend"},
      {"d":"2022-10-15","o":0.0089,"h":0.00945,"l":0.00885,"c":0.0094,"s":"trend"},
      {"d":"2022-10-16","o":0.0094,"h":0.01,"l":0.00935,"c":0.00995,"s":"trend"},
      {"d":"2022-10-17","o":0.00995,"h":0.0106,"l":0.0099,"c":0.010528,"s":"trend"}
    ]
  },
  "layer": [
    {
      "data": {"name": "bands"},
      "mark": {"type": "rect"},
      "encoding": {
        "x": {
          "field": "a",
          "type": "temporal",
          "scale": {"type": "utc", "padding": 0, "domain": [{"year": 2021, "month": 9, "date": 23, "hours": 12, "utc": true}, {"year": 2023, "month": 1, "date": 11, "hours": 14, "utc": true}]},
          "axis": {
            "title": null,
            "values": [
              {"year": 2021, "month": 10, "date": 1, "utc": true},
              {"year": 2021, "month": 11, "date": 1, "utc": true},
              {"year": 2021, "month": 12, "date": 1, "utc": true},
              {"year": 2022, "month": 1, "date": 1, "utc": true},
              {"year": 2022, "month": 2, "date": 1, "utc": true},
              {"year": 2022, "month": 3, "date": 1, "utc": true},
              {"year": 2022, "month": 4, "date": 1, "utc": true},
              {"year": 2022, "month": 5, "date": 1, "utc": true},
              {"year": 2022, "month": 6, "date": 1, "utc": true},
              {"year": 2022, "month": 7, "date": 1, "utc": true},
              {"year": 2022, "month": 8, "date": 1, "utc": true},
              {"year": 2022, "month": 9, "date": 1, "utc": true},
              {"year": 2022, "month": 10, "date": 1, "utc": true},
              {"year": 2022, "month": 11, "date": 1, "utc": true},
              {"year": 2022, "month": 12, "date": 1, "utc": true},
              {"year": 2023, "month": 1, "date": 1, "utc": true}
            ],
            "labelExpr": "utcmonth(datum.value) == 0 ? utcFormat(datum.value, '%Y') : utcFormat(datum.value, '%b')",
            "labelFontWeight": {"condition": {"test": "utcmonth(datum.value) == 0", "value": "bold"}, "value": "normal"},
            "labelColor": {"condition": {"test": "utcmonth(datum.value) == 0", "value": "#131722"}, "value": "#3b3b3b"},
            "labelFontSize": 7,
            "labelFont": "Roboto",
            "labelPadding": 3,
            "labelFlush": false,
            "labelOverlap": false,
            "ticks": false,
            "grid": false,
            "domainColor": "#e0e3eb"
          }
        },
        "x2": {"field": "b"},
        "color": {"field": "t", "type": "nominal", "scale": {"domain": ["bull", "bear"], "range": ["#e0fbe0", "#fde4e2"]}, "legend": null}
      }
    },
    {
      "data": {"name": "candles"},
      "mark": {"type": "rule", "strokeWidth": 0.8},
      "encoding": {
        "x": {"field": "d", "type": "temporal"},
        "y": {
          "field": "l",
          "type": "quantitative",
          "scale": {"domain": [-0.000217, 0.012651], "nice": false, "zero": false, "padding": 0},
          "axis": {
            "orient": "right",
            "title": "BTC",
            "titleAngle": 0,
            "titleAlign": "left",
            "titleBaseline": "middle",
            "titleX": 7,
            "titleY": 15,
            "titleFontSize": 7,
            "titleFontWeight": "normal",
            "titleColor": "#555555",
            "titleFont": "Roboto",
            "labels": false,
            "ticks": false,
            "grid": false,
            "domainColor": "#e0e3eb"
          }
        },
        "y2": {"field": "h"},
        "color": {
          "condition": [
            {"test": "datum.s === 'short'", "value": "#9c27b0"},
            {"test": "datum.s === 'long'", "value": "#43a047"},
            {"test": "datum.s === 'trend'", "value": "#2f6fd6"},
            {"test": "datum.s === 'sell'", "value": "#b23a48"},
            {"test": "datum.c >= datum.o", "value": "#8f8f8f"}
          ],
          "value": "#000000"
        }
      }
    },
    {
      "data": {"name": "candles"},
      "mark": {"type": "bar", "width": 1.4},
      "encoding": {
        "x": {"field": "d", "type": "temporal"},
        "y": {"field": "o", "type": "quantitative", "axis": {"orient": "right"}},
        "y2": {"field": "c"},
        "color": {
          "condition": [
            {"test": "datum.s === 'short'", "value": "#9c27b0"},
            {"test": "datum.s === 'long'", "value": "#43a047"},
            {"test": "datum.s === 'trend'", "value": "#2f6fd6"},
            {"test": "datum.s === 'sell'", "value": "#b23a48"},
            {"test": "datum.c >= datum.o", "value": "#b4b4b4"}
          ],
          "value": "#000000"
        }
      }
    },
    {
      "data": {"name": "last"},
      "mark": {"type": "rule", "strokeDash": [2, 2], "strokeWidth": 1, "color": "#e2b3bb"},
      "encoding": {"y": {"field": "p", "type": "quantitative", "axis": {"orient": "right"}}}
    },
    {
      "data": {"name": "ann"},
      "transform": [{"filter": "datum.k === 'tri'"}],
      "mark": {"type": "point", "shape": "triangle-up", "filled": true, "size": 22, "color": "#4caf50", "opacity": 1},
      "encoding": {"x": {"field": "d", "type": "temporal"}, "y": {"field": "p", "type": "quantitative", "axis": {"orient": "right"}}}
    },
    {
      "data": {"name": "ann"},
      "transform": [{"filter": "datum.k === 'dot'"}],
      "mark": {"type": "point", "shape": "circle", "filled": true, "size": 12, "color": "#000000", "opacity": 1},
      "encoding": {"x": {"field": "d", "type": "temporal"}, "y": {"field": "p", "type": "quantitative", "axis": {"orient": "right"}}}
    },
    {
      "data": {"name": "ann"},
      "transform": [{"filter": "datum.k === 'bdot'"}],
      "mark": {"type": "point", "shape": "square", "filled": true, "size": 5, "color": "#29b6f6", "opacity": 1},
      "encoding": {"x": {"field": "d", "type": "temporal"}, "y": {"field": "p", "type": "quantitative", "axis": {"orient": "right"}}}
    },
    {
      "data": {"name": "ann"},
      "transform": [{"filter": "datum.k === 'gdot'"}],
      "mark": {"type": "point", "shape": "circle", "filled": true, "size": 14, "color": "#00e676", "opacity": 1},
      "encoding": {"x": {"field": "d", "type": "temporal"}, "y": {"field": "p", "type": "quantitative", "axis": {"orient": "right"}}}
    },
    {
      "data": {"name": "ann"},
      "transform": [{"filter": "datum.k === 'plus'"}],
      "mark": {"type": "point", "shape": "cross", "filled": true, "size": 22, "color": "#ef5350", "opacity": 1},
      "encoding": {"x": {"field": "d", "type": "temporal"}, "y": {"field": "p", "type": "quantitative", "axis": {"orient": "right"}}}
    },
    {
      "data": {"name": "ann"},
      "transform": [{"filter": "datum.k === 'short'"}],
      "mark": {"type": "text", "fontSize": 7, "font": "Roboto", "color": "#4a4a4a", "baseline": "middle"},
      "encoding": {"x": {"field": "d", "type": "temporal"}, "y": {"field": "p", "type": "quantitative", "axis": {"orient": "right"}}, "text": {"field": "k"}}
    },
    {
      "data": {"name": "ann"},
      "transform": [{"filter": "datum.k === 'Sell'"}],
      "mark": {"type": "point", "shape": "M-1,-0.6H1V0.6H-1Z", "filled": true, "size": 225, "color": "#e5364f", "opacity": 1},
      "encoding": {"x": {"field": "d", "type": "temporal"}, "y": {"field": "p", "type": "quantitative", "axis": {"orient": "right"}}}
    },
    {
      "data": {"name": "ann"},
      "transform": [{"filter": "datum.k === 'Sell'"}],
      "mark": {"type": "text", "fontSize": 6.5, "font": "Roboto", "color": "#ffffff", "baseline": "middle"},
      "encoding": {"x": {"field": "d", "type": "temporal"}, "y": {"field": "p", "type": "quantitative", "axis": {"orient": "right"}}, "text": {"field": "k"}}
    },
    {
      "data": {"name": "ann"},
      "transform": [{"filter": "datum.k === 'Buy'"}],
      "mark": {"type": "point", "shape": "M-1,-0.6H1V0.6H-1Z", "filled": true, "size": 289, "color": "#ffeb3b", "opacity": 1},
      "encoding": {"x": {"field": "d", "type": "temporal"}, "y": {"field": "p", "type": "quantitative", "axis": {"orient": "right"}}}
    },
    {
      "data": {"name": "ann"},
      "transform": [{"filter": "datum.k === 'Buy'"}],
      "mark": {"type": "text", "fontSize": 7.5, "font": "Roboto", "color": "#222222", "baseline": "middle"},
      "encoding": {"x": {"field": "d", "type": "temporal"}, "y": {"field": "p", "type": "quantitative", "axis": {"orient": "right"}}, "text": {"field": "k"}}
    },
    {
      "data": {"name": "ticks"},
      "mark": {"type": "text", "align": "left", "baseline": "middle", "fontSize": 7, "font": "Roboto", "color": "#555555"},
      "encoding": {
        "x": {"datum": {"year": 2023, "month": 1, "date": 15, "hours": 6, "utc": true}, "type": "temporal"},
        "y": {"field": "v", "type": "quantitative", "axis": {"orient": "right"}},
        "text": {"field": "t"}
      }
    },
    {
      "data": {"name": "last"},
      "mark": {"type": "rect", "color": "#2d8cf0"},
      "encoding": {
        "x": {"datum": {"year": 2023, "month": 1, "date": 11, "hours": 14, "utc": true}, "type": "temporal"},
        "x2": {"datum": {"year": 2023, "month": 2, "date": 28, "utc": true}},
        "y": {"datum": 0.010745, "type": "quantitative", "axis": {"orient": "right"}},
        "y2": {"datum": 0.010311}
      }
    },
    {
      "data": {"name": "last"},
      "mark": {"type": "text", "align": "left", "baseline": "middle", "fontSize": 7, "font": "Roboto", "color": "#ffffff", "lineBreak": "\n", "lineHeight": 8.5},
      "encoding": {
        "x": {"datum": {"year": 2023, "month": 1, "date": 15, "hours": 6, "utc": true}, "type": "temporal"},
        "y": {"field": "p", "type": "quantitative", "axis": {"orient": "right"}},
        "text": {"field": "label"}
      }
    }
  ]
}
